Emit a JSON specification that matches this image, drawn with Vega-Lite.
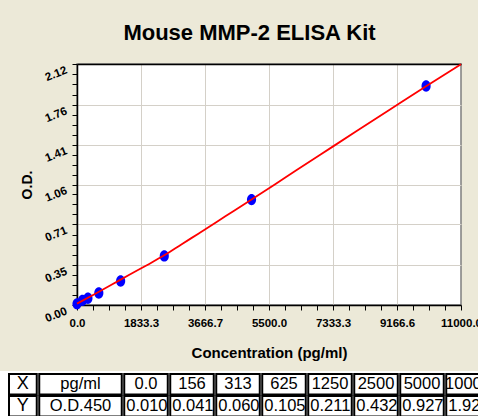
{
  "$schema": "https://vega.github.io/schema/vega-lite/v6.json",
  "background": "#ECE9D8",
  "padding": {"left": 0, "top": 21, "right": 0, "bottom": 0},
  "title": {"text": "Mouse MMP-2 ELISA Kit", "font": "Liberation Sans", "fontSize": 22, "fontWeight": "bold", "color": "black", "anchor": "middle", "offset": 15, "dx": 4},
  "datasets": {
    "pts": [
      {"conc": 0, "concLabel": "0.0", "od": 0.010},
      {"conc": 156, "concLabel": "156", "od": 0.041},
      {"conc": 313, "concLabel": "313", "od": 0.060},
      {"conc": 625, "concLabel": "625", "od": 0.105},
      {"conc": 1250, "concLabel": "1250", "od": 0.211},
      {"conc": 2500, "concLabel": "2500", "od": 0.432},
      {"conc": 5000, "concLabel": "5000", "od": 0.927},
      {"conc": 10000, "concLabel": "10000", "od": 1.926}
    ],
    "fit": [
      {"conc": 0, "od": 0.012},
      {"conc": 500, "od": 0.095},
      {"conc": 1000, "od": 0.180},
      {"conc": 1500, "od": 0.266},
      {"conc": 2000, "od": 0.350},
      {"conc": 2500, "od": 0.437},
      {"conc": 3000, "od": 0.535},
      {"conc": 3500, "od": 0.632},
      {"conc": 4000, "od": 0.730},
      {"conc": 4500, "od": 0.830},
      {"conc": 5000, "od": 0.928},
      {"conc": 6000, "od": 1.128},
      {"conc": 7000, "od": 1.328},
      {"conc": 8000, "od": 1.528},
      {"conc": 9000, "od": 1.727},
      {"conc": 10000, "od": 1.925},
      {"conc": 11000, "od": 2.118}
    ],
    "head": [
      {"row": "X", "unit": "pg/ml"},
      {"row": "Y", "unit": "O.D.450"}
    ]
  },
  "config": {"view": {"stroke": null}, "axis": {"labelFont": "Liberation Sans", "titleFont": "Liberation Sans"}},
  "spacing": 9,
  "vconcat": [
    {
      "spacing": 0,
      "hconcat": [
        {"width": 19, "height": 1, "data": {"values": []}, "mark": "point", "view": {"stroke": null}},
        {
          "width": 384,
          "height": 241,
          "view": {"fill": "white", "stroke": "#7f7f7f", "strokeWidth": 1.5},
          "encoding": {
            "y": {
              "field": "od", "type": "quantitative",
              "scale": {"domain": [0, 2.12], "nice": false, "zero": true},
              "axis": {
                "values": [0, 0.0875, 0.175, 0.2625, 0.35, 0.44, 0.53, 0.62, 0.71, 0.7975, 0.885, 0.9725, 1.06, 1.1475, 1.235, 1.3225, 1.41, 1.4975, 1.585, 1.6725, 1.76, 1.85, 1.94, 2.03, 2.12],
                "labelExpr": "indexof([0,0.35,0.71,1.06,1.41,1.76,2.12], datum.value) >= 0 ? format(datum.value, '.2f') : ''",
                "grid": true, "gridColor": "#d4d0c8", "gridWidth": 1,
                "gridOpacity": {"condition": {"test": "indexof([0.35,0.71,1.06,1.41,1.76], datum.value) >= 0", "value": 1}, "value": 0},
                "domainColor": "black", "domainWidth": 1.5, "tickColor": "black", "tickSize": 5, "tickWidth": 1,
                "labelAngle": -22, "labelAlign": "right", "labelBaseline": "top", "labelPadding": 8,
                "labelFontSize": 11.5, "labelFontWeight": "bold", "labelColor": "black",
                "labelOverlap": false, "labelFlush": false, "labelBound": false,
                "minExtent": 34, "maxExtent": 34,
                "title": "O.D.", "titleFontSize": 14, "titleFontWeight": "bold", "titleColor": "black", "titlePadding": 9
              }
            }
          },
          "layer": [
            {
              "data": {"name": "pts"},
              "mark": {"type": "point", "shape": "M-0.8,0A0.8,1,0,1,0,0.8,0A0.8,1,0,1,0,-0.8,0Z", "filled": true, "size": 130, "color": "#0000ff", "opacity": 1},
              "encoding": {
                "x": {
                  "field": "conc", "type": "quantitative",
                  "scale": {"domain": [0, 11000], "nice": false, "zero": true},
                  "axis": {
                    "values": [0, 458.33, 916.67, 1375, 1833.3, 2291.67, 2750, 3208.33, 3666.7, 4125, 4583.33, 5041.67, 5500, 5958.33, 6416.67, 6875, 7333.3, 7791.67, 8250, 8708.33, 9166.6, 9625, 10083.33, 10541.67, 11000],
                    "labelExpr": "indexof([0,1833.3,3666.7,5500,7333.3,9166.6,11000], datum.value) >= 0 ? format(datum.value, '.1f') : ''",
                    "grid": true, "gridColor": "#d4d0c8", "gridWidth": 1,
                    "gridOpacity": {"condition": {"test": "indexof([1833.3,3666.7,5500,7333.3,9166.6], datum.value) >= 0", "value": 1}, "value": 0},
                    "domainColor": "black", "domainWidth": 1.5, "tickColor": "black", "tickSize": 5, "tickWidth": 1,
                    "labelFontSize": 11.5, "labelFontWeight": "bold", "labelColor": "black", "labelPadding": 7,
                    "labelOverlap": false, "labelFlush": false, "labelBound": false, "labelAngle": 0,
                    "title": "Concentration (pg/ml)", "titleFontSize": 15, "titleFontWeight": "bold", "titleColor": "black", "titlePadding": 17
                  }
                }
              }
            },
            {
              "data": {"name": "fit"},
              "mark": {"type": "line", "color": "#ff0000", "strokeWidth": 1.8, "interpolate": "monotone"},
              "encoding": {
                "x": {
                  "field": "conc", "type": "quantitative",
                  "axis": {"orient": "top", "labels": false, "ticks": false, "grid": false, "domainColor": "black", "domainWidth": 1.5, "title": null}
                }
              }
            }
          ],
          "resolve": {"axis": {"x": "independent"}}
        }
      ]
    },
    {
      "spacing": 0,
      "hconcat": [
        {
          "width": 38, "height": 46,
          "view": {"fill": "white", "stroke": null},
          "data": {"name": "head"},
          "encoding": {
            "x": {"datum": "lab", "type": "nominal", "scale": {"domain": ["lab"], "paddingInner": 0, "paddingOuter": 0.1847, "align": 0.878}, "axis": null},
            "y": {"field": "row", "type": "nominal", "scale": {"domain": ["X", "Y"], "paddingInner": 0.068, "paddingOuter": 0.0795, "align": 0.857}, "axis": null}
          },
          "layer": [
            {"mark": {"type": "rect", "fill": "white", "stroke": "black", "strokeWidth": 2}},
            {"mark": {"type": "text", "font": "Liberation Sans Narrow, Liberation Sans", "fontSize": 18, "color": "black", "baseline": "middle"}, "encoding": {"text": {"field": "row"}}}
          ]
        },
        {
          "width": 85, "height": 46,
          "view": {"fill": "white", "stroke": null},
          "data": {"name": "head"},
          "encoding": {
            "x": {"datum": "u", "type": "nominal", "scale": {"domain": ["u"], "paddingInner": 0.0294, "paddingOuter": 0.0147}, "axis": null},
            "y": {"field": "row", "type": "nominal", "scale": {"domain": ["X", "Y"], "paddingInner": 0.068, "paddingOuter": 0.0795, "align": 0.857}, "axis": null}
          },
          "layer": [
            {"mark": {"type": "rect", "fill": "white", "stroke": "black", "strokeWidth": 2}},
            {"mark": {"type": "text", "font": "Liberation Sans Narrow, Liberation Sans", "fontSize": 16.5, "color": "black", "baseline": "middle"}, "encoding": {"text": {"field": "unit"}}}
          ]
        },
        {
          "width": 368, "height": 46,
          "view": {"fill": "white", "stroke": null},
          "data": {"name": "pts"},
          "encoding": {
            "x": {"field": "conc", "type": "ordinal", "scale": {"paddingInner": 0.054, "paddingOuter": 0.027}, "axis": null}
          },
          "layer": [
            {"mark": {"type": "rect", "fill": "white", "stroke": "black", "strokeWidth": 2},
             "encoding": {"y": {"datum": "X", "type": "nominal", "scale": {"domain": ["X", "Y"], "paddingInner": 0.068, "paddingOuter": 0.0795, "align": 0.857}, "axis": null}}},
            {"mark": {"type": "rect", "fill": "white", "stroke": "black", "strokeWidth": 2},
             "encoding": {"y": {"datum": "Y", "type": "nominal"}}},
            {"mark": {"type": "text", "font": "Liberation Sans Narrow, Liberation Sans", "fontSize": 16.5, "color": "black", "baseline": "middle"},
             "encoding": {"y": {"datum": "X", "type": "nominal"}, "text": {"field": "concLabel"}}},
            {"mark": {"type": "text", "font": "Liberation Sans Narrow, Liberation Sans", "fontSize": 16.5, "color": "black", "baseline": "middle", "align": "left", "dx": 2},
             "encoding": {"x": {"field": "conc", "type": "ordinal", "bandPosition": 0}, "y": {"datum": "Y", "type": "nominal"}, "text": {"field": "od", "format": ".3f"}}}
          ]
        }
      ]
    }
  ]
}
